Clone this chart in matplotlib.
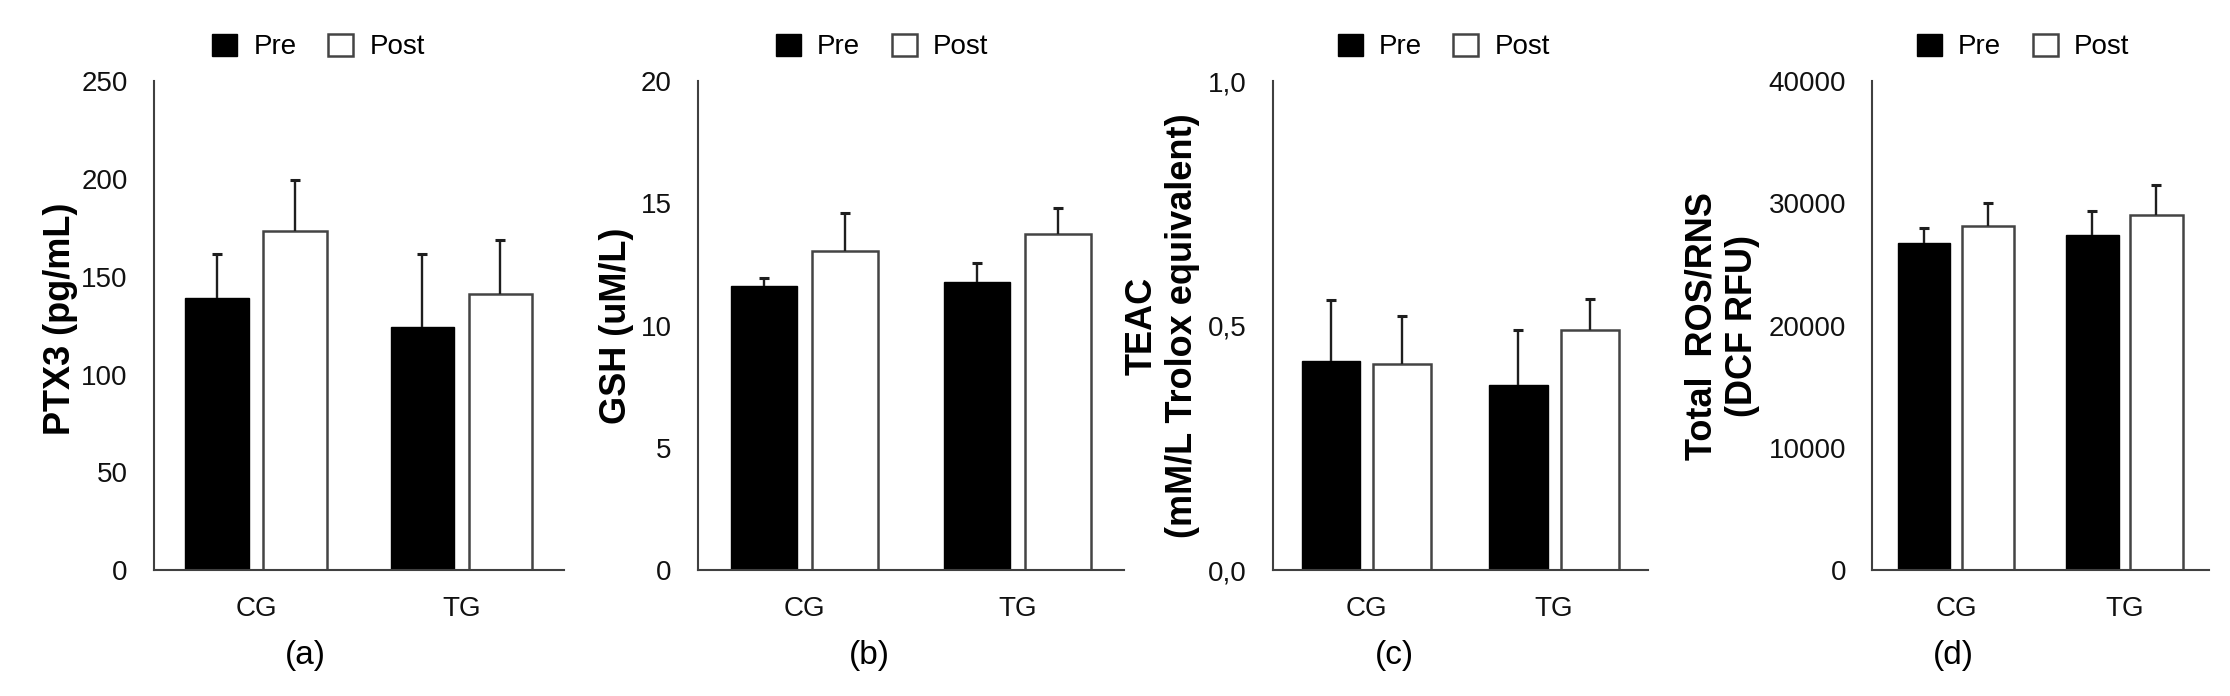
import matplotlib
matplotlib.use("Agg")
import matplotlib.pyplot as plt
from matplotlib.patches import Patch
import numpy as np

plt.rcParams['font.family'] = ['Liberation Sans', 'DejaVu Sans']

categories = ['CG', 'TG']
series_names = ['Pre', 'Post']

ptx3_pre = [138.9, 124.3]
ptx3_post = [173.6, 141.4]
ptx3_pre_err = [22.5, 37.5]
ptx3_post_err = [25.9, 27.5]

gsh_pre = [11.62, 11.78]
gsh_post = [13.04, 13.75]
gsh_pre_err = [0.34, 0.78]
gsh_post_err = [1.56, 1.07]

teac_pre = [0.427, 0.379]
teac_post = [0.421, 0.491]
teac_pre_err = [0.126, 0.112]
teac_post_err = [0.098, 0.064]

ros_pre = [26760, 27420]
ros_post = [28180, 29020]
ros_pre_err = [1200, 1930]
ros_post_err = [1850, 2470]

ylabels = ['PTX3 (pg/mL)', 'GSH (uM/L)', 'TEAC\n(mM/L Trolox equivalent)', 'Total  ROS/RNS\n(DCF RFU)']
yticks_list = [[0, 50, 100, 150, 200, 250], [0, 5, 10, 15, 20], [0, 0.5, 1.0], [0, 10000, 20000, 30000, 40000]]
ytick_labels_list = [['0', '50', '100', '150', '200', '250'], ['0', '5', '10', '15', '20'],
                     ['0,0', '0,5', '1,0'], ['0', '10000', '20000', '30000', '40000']]
panel_tags = ['(a)', '(b)', '(c)', '(d)']

panels = [
    (ptx3_pre, ptx3_post, ptx3_pre_err, ptx3_post_err),
    (gsh_pre, gsh_post, gsh_pre_err, gsh_post_err),
    (teac_pre, teac_post, teac_pre_err, teac_post_err),
    (ros_pre, ros_post, ros_pre_err, ros_post_err),
]

W, H = 2230, 696
fig = plt.figure(figsize=(W / 100, H / 100), dpi=100)

ax_left = [153.6, 697.5, 1272.5, 1872.0]
ax_right = [564.0, 1124.0, 1648.0, 2208.6]
ax_top = 81.3
ax_bot = 570.0
legend_cx = [318.5, 881.8, 1443.7, 2022.8]
tag_cx = [305.4, 868.9, 1394.6, 1953.8]
ylabel_cx = [60.0, 617.0, 1162.5, 1722.5]
ylabel_cy = [319.0, 325.6, 325.6, 326.0]

spine_col = '#404040'
edge_col = '#444444'
err_col = '#1e1e1e'

bw = 0.31
off = 0.19


def upper_errbar(ax, xpos, vals, errs):
    eb = ax.errorbar(xpos, vals, yerr=[np.zeros(len(vals)), errs], fmt='none', ecolor=err_col,
                     elinewidth=1.7, capsize=3.6, capthick=2.2, zorder=3)
    caps = eb[1]
    if len(caps) >= 2:
        caps[0].set_visible(False)


for i, (pre, post, pre_e, post_e) in enumerate(panels):
    ax = fig.add_axes([ax_left[i] / W, 1 - ax_bot / H, (ax_right[i] - ax_left[i]) / W, (ax_bot - ax_top) / H])
    x = np.arange(len(categories))
    ax.bar(x - off, pre, width=bw, color='black', edgecolor='black', linewidth=1.0, zorder=2)
    ax.bar(x + off, post, width=bw, color='white', edgecolor=edge_col, linewidth=1.8, zorder=2)
    upper_errbar(ax, x - off, pre, pre_e)
    upper_errbar(ax, x + off, post, post_e)
    yt = yticks_list[i]
    ax.set_ylim(yt[0], yt[-1])
    ax.set_xlim(-0.5, 1.5)
    ax.set_yticks(yt)
    ax.set_yticklabels(ytick_labels_list[i])
    ax.set_xticks(x)
    ax.set_xticklabels(categories)
    for s in ['top', 'right']:
        ax.spines[s].set_visible(False)
    for s in ['left', 'bottom']:
        ax.spines[s].set_color(spine_col)
        ax.spines[s].set_linewidth(1.5)
    ax.tick_params(axis='y', length=0, pad=18.7, labelsize=20, colors='#111111')
    ax.tick_params(axis='x', length=0, pad=18.4, labelsize=20, colors='#111111')
    ax.set_facecolor('none')

    handles = [Patch(facecolor='black', edgecolor='black', linewidth=1.0),
               Patch(facecolor='white', edgecolor=edge_col, linewidth=1.8)]
    ax.legend(handles, series_names, loc='center', bbox_to_anchor=(legend_cx[i] / W, 1 - 47.0 / H),
              bbox_transform=fig.transFigure, ncol=2, frameon=False, fontsize=20,
              handlelength=0.9, handleheight=0.85, handletextpad=0.58, columnspacing=1.14,
              borderpad=0, borderaxespad=0)

    fig.text(ylabel_cx[i] / W, 1 - ylabel_cy[i] / H, ylabels[i], rotation=90, ha='center', va='center',
             fontsize=26, fontweight='bold', multialignment='center', linespacing=1.2)
    fig.text(tag_cx[i] / W, 1 - 655.6 / H, panel_tags[i], ha='center', va='center', fontsize=24)

fig.savefig('out.png', dpi=100, facecolor='white')
